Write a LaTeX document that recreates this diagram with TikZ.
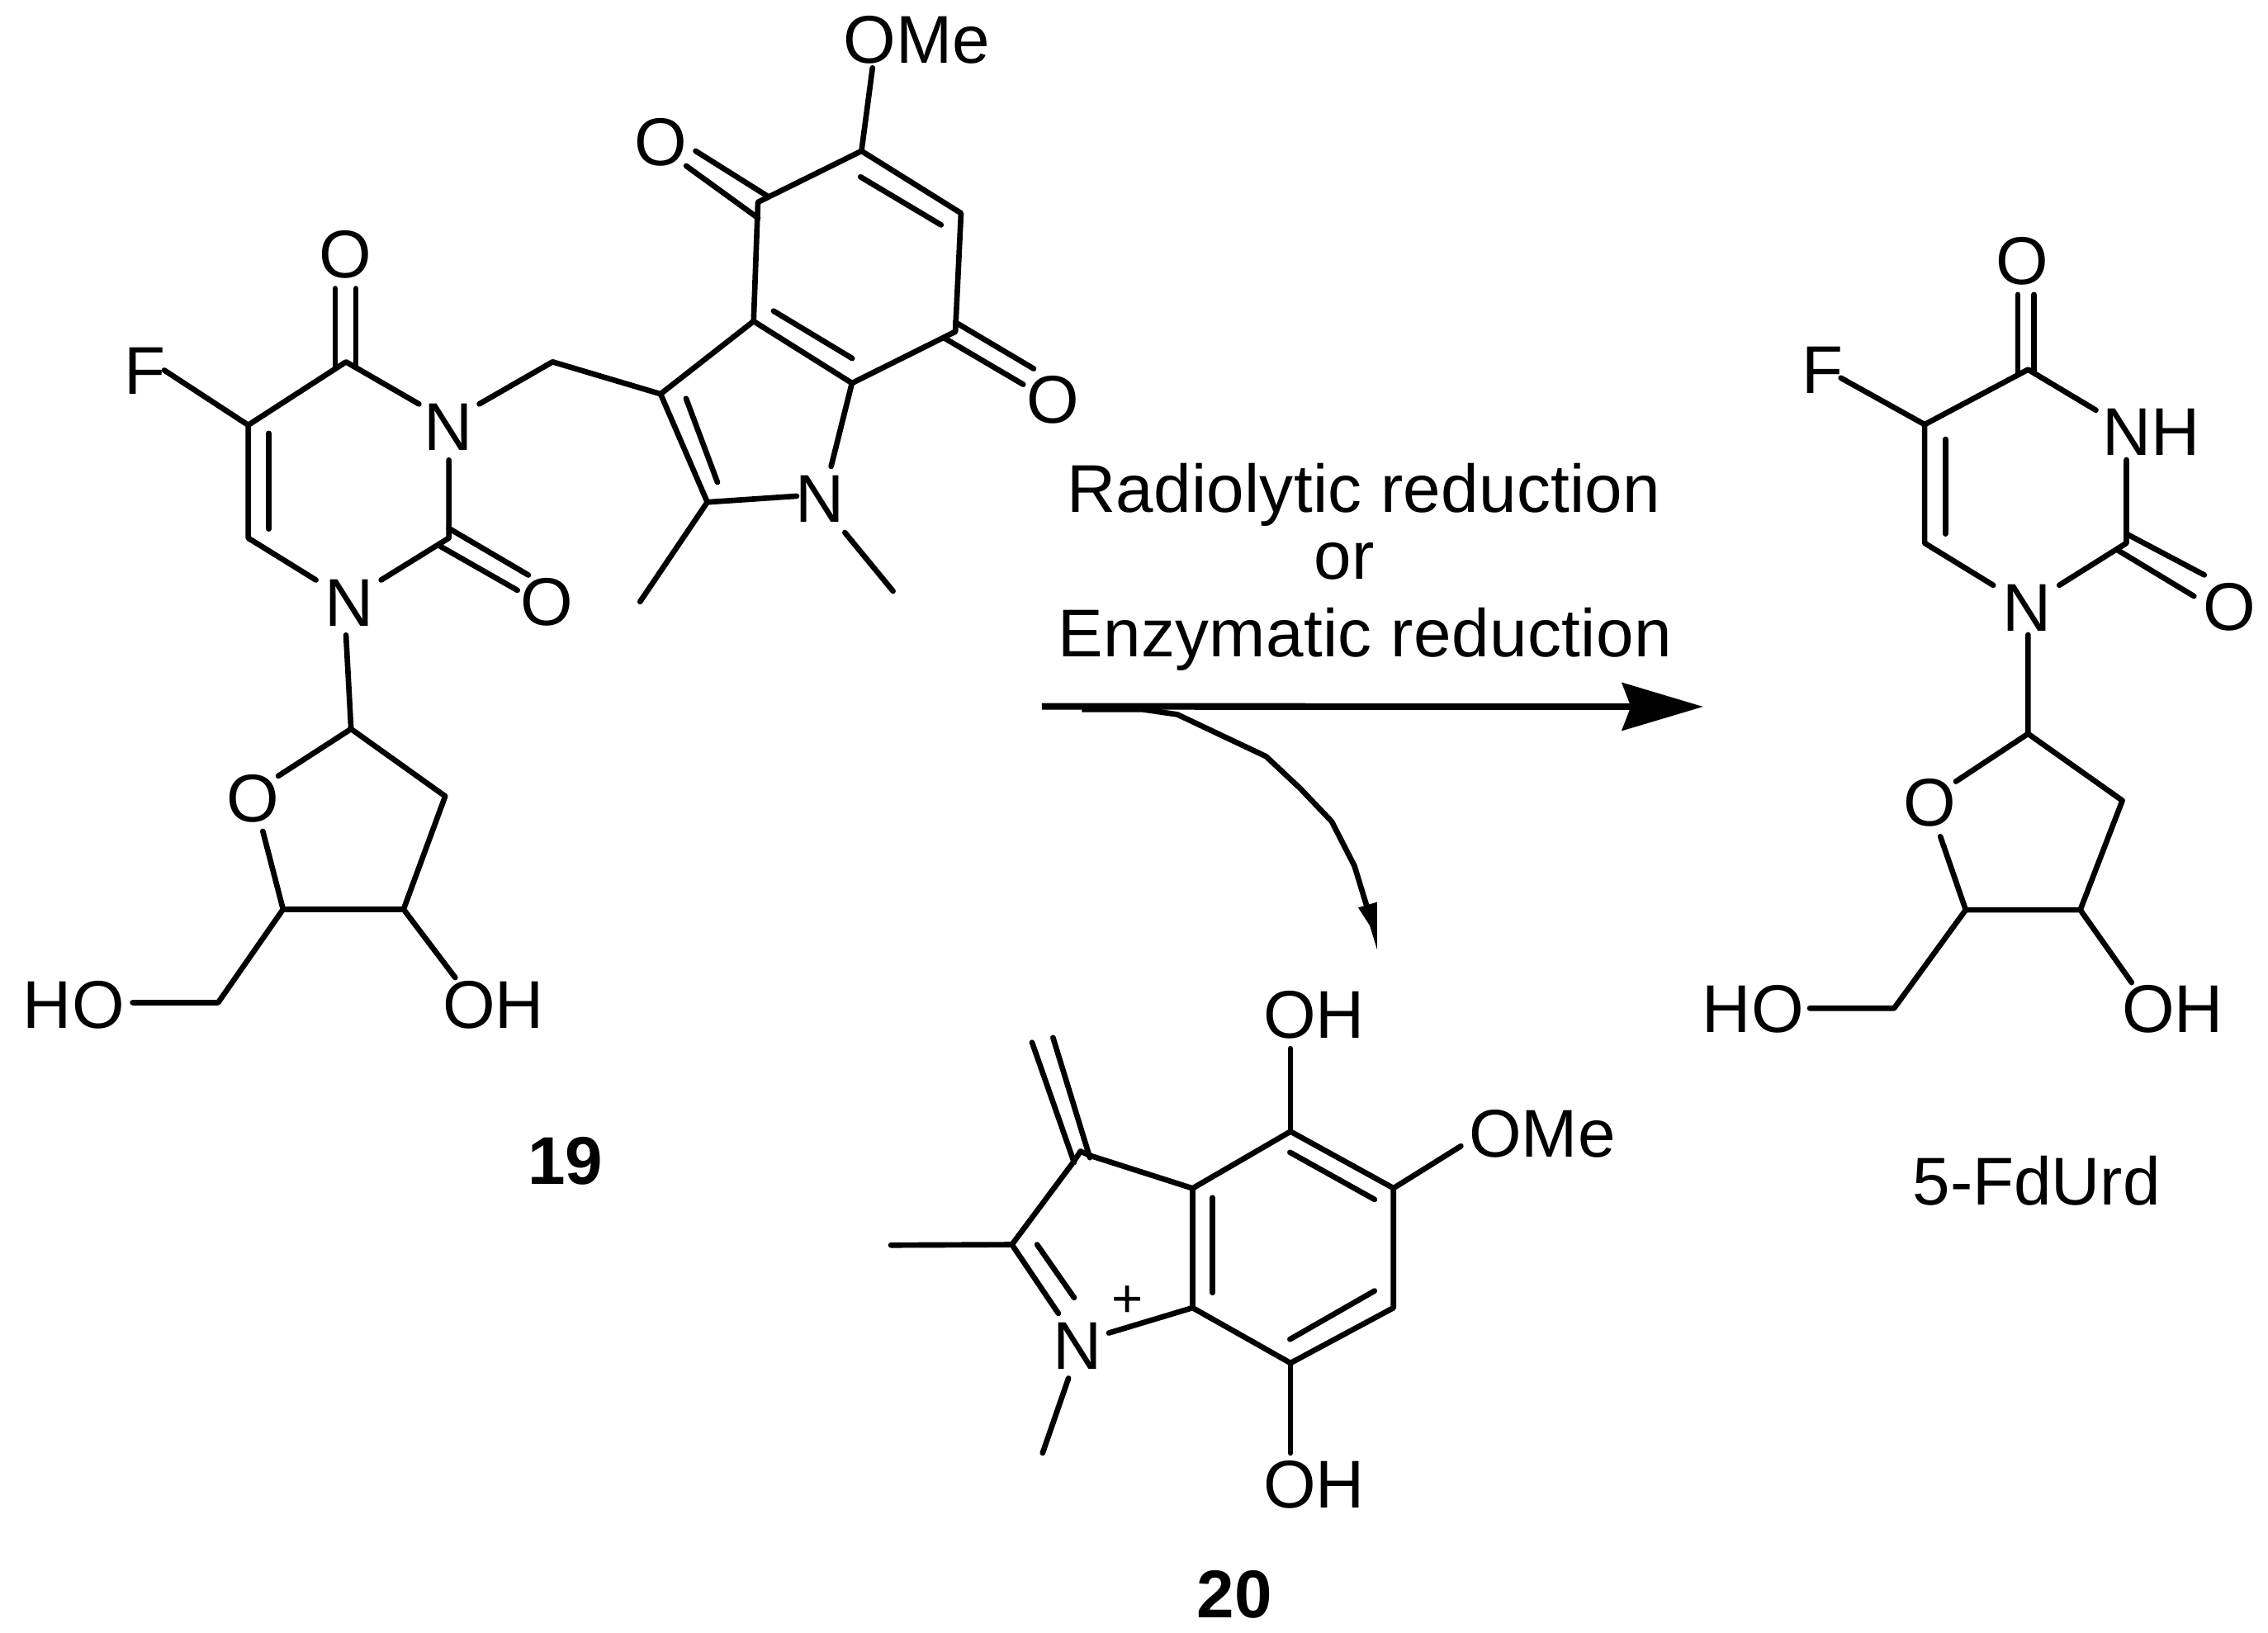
\documentclass[tikz,border=0pt]{standalone}
\usepackage{fontspec}
\setmainfont{Liberation Sans}
\usetikzlibrary{arrows.meta}
\tikzset{
  lab/.style={font=\fontsize{23.35pt}{26pt}\selectfont,inner sep=0pt,outer sep=0pt,anchor=base,text=black},
  blab/.style={lab,font=\fontsize{23.35pt}{26pt}\selectfont\bfseries},
  bond/.style={line width=1.9pt,line cap=round,line join=round,black},
  rxnarrow/.style={line width=2.3pt,black,-{Stealth[length=28pt,width=16.4pt,inset=3pt]}},
  hookline/.style={line width=1.9pt,line join=round,black}
}
\begin{document}
\begin{tikzpicture}[x=0.5pt,y=-0.5pt]
\useasboundingbox (0,0) rectangle (1568,1128.5);
% ---------- compound 19: labels
\node[lab] (aOMe) at (633.9,43.5) {OMe};
\node[lab] (aO4p) at (456.9,114.4) {O};
\node[lab] (aO7p) at (728.2,292.4) {O};
\node[lab] (aO4) at (239,192.3) {O};
\node[lab] (aF) at (100,272.3) {F};
\node[lab] (aN3) at (309.7,311.4) {N};
\node[lab] (aNp) at (566.6,361.1) {N};
\node[lab] (aN1) at (241.7,432.8) {N};
\node[lab] (aO2) at (378,432.5) {O};
\node[lab] (aOs) at (174.8,568.3) {O};
\node[lab] (aHO) at (51,711) {HO};
\node[lab] (aOH) at (341,711) {OH};
\node[blab] (a19) at (391,818.6) {19};
% atoms
\coordinate (C4) at (239.2,250.2); \coordinate (C5) at (171.6,293.9); \coordinate (C6) at (171.6,372);
\coordinate (C2) at (310.3,372); \coordinate (CH) at (382,250.2); \coordinate (I3) at (456.7,272.4);
\coordinate (I3a) at (521,222.1); \coordinate (I7a) at (589,264.9); \coordinate (I2) at (489,347.2);
\coordinate (I4) at (524,139.8); \coordinate (I5) at (595.6,104.4); \coordinate (I6) at (664.4,147.4); \coordinate (I7) at (660.5,229.3);
\coordinate (S1) at (242.7,504); \coordinate (S2) at (307.8,550.5); \coordinate (S3) at (279,628.7);
\coordinate (S4) at (195.7,628.7); \coordinate (S5) at (150.8,693.2);
% bond ends at labels
\coordinate (n3a) at (289.6,279.3); \coordinate (n3b) at (331.4,279.3); \coordinate (n3c) at (310.3,318.1);
\coordinate (n1a) at (218.4,401); \coordinate (n1b) at (263.5,401); \coordinate (n1c) at (239.2,439.1);
\coordinate (fe) at (113.6,256); \coordinate (npa) at (574.6,322.5); \coordinate (npb) at (550.8,343); \coordinate (npc) at (584.1,368.2);
\coordinate (me1) at (442.5,416); \coordinate (me2) at (617.4,408.7); \coordinate (ome) at (603.2,47);
\coordinate (so1) at (192.4,536.5); \coordinate (so2) at (181.7,574.7); \coordinate (ho) at (91.7,693.2); \coordinate (oh) at (314.7,675.9);
\draw[bond] (n3a) -- (C4) -- (C5) -- (C6) -- (n1a);
\draw[bond] (n1b) -- (C2) -- (n3c);
\draw[bond] (fe) -- (C5);
\draw[bond] (n3b) -- (CH) -- (I3) -- (I3a) -- (I7a) -- (npa);
\draw[bond] (I3) -- (I2) -- (npb);
\draw[bond] (I2) -- (me1);
\draw[bond] (npc) -- (me2);
\draw[bond] (I3a) -- (I4) -- (I5) -- (I6) -- (I7) -- (I7a);
\draw[bond] (I5) -- (ome);
\draw[bond] (n1c) -- (S1) -- (S2) -- (S3) -- (S4) -- (so2);
\draw[bond] (S1) -- (so1);
\draw[bond] (S4) -- (S5) -- (ho);
\draw[bond] (S3) -- (oh);
% double bonds 19
\coordinate (d1) at (185.9,299.6); \coordinate (d2) at (185.9,365.7); \draw[bond] (d1) -- (d2);
\coordinate (d3) at (231.7,199.5); \coordinate (d4) at (231.7,253); \draw[bond] (d3) -- (d4);
\coordinate (d5) at (246,199.5); \coordinate (d6) at (246,253); \draw[bond] (d5) -- (d6);
\coordinate (d7) at (310.3,365.3); \coordinate (d8) at (365.3,397.6); \draw[bond] (d7) -- (d8);
\coordinate (d9) at (304.4,377.7); \coordinate (d10) at (357.7,408.1); \draw[bond] (d9) -- (d10);
\coordinate (d11) at (480.9,104.4); \coordinate (d12) at (530.9,135.8); \draw[bond] (d11) -- (d12);
\coordinate (d13) at (474.4,114.7); \coordinate (d14) at (524,150.7); \draw[bond] (d13) -- (d14);
\coordinate (d15) at (660.5,222.8); \coordinate (d16) at (714.6,254.9); \draw[bond] (d15) -- (d16);
\coordinate (d17) at (652.8,233.7); \coordinate (d18) at (707.4,265.8); \draw[bond] (d17) -- (d18);
\coordinate (d19) at (594.9,122.3); \coordinate (d20) at (650.6,155.5); \draw[bond] (d19) -- (d20);
\coordinate (d21) at (534.8,215); \coordinate (d22) at (589.2,247.8); \draw[bond] (d21) -- (d22);
\coordinate (d23) at (474.3,275.5); \coordinate (d24) at (496,333.4); \draw[bond] (d23) -- (d24);
% ---------- reaction text and arrows
\node[lab] (t1) at (942.9,354.2) {\addfontfeature{LetterSpace=0.3}Radiolytic reduction};
\node[lab] (t2) at (929.4,400.5) {or};
\node[lab] (t3) at (943.5,454.3) {\addfontfeature{LetterSpace=0.5}Enzymatic reduction};
\coordinate (ast) at (720.3,488.4); \coordinate (aen) at (1177.5,488.6);
\draw[rxnarrow] (ast) -- (aen);
\coordinate (h0) at (748,490.5); \coordinate (h1) at (790,490.5); \coordinate (h2) at (814,494);
\coordinate (h3) at (875.3,523); \coordinate (h4) at (898.8,545); \coordinate (h5) at (920.7,568);
\coordinate (h6) at (936.4,598.7); \coordinate (h7) at (945.8,629.4);
\draw[hookline] (h0) -- (h1) -- (h2) -- (h3) -- (h4) -- (h5) -- (h6) -- (h7);
\coordinate (k1) at (939,627.5); \coordinate (k2) at (952,623.7); \coordinate (k3) at (952,656.3); \coordinate (k4) at (947,640);
\fill[black] (k1) -- (k2) -- (k3) -- (k4) -- cycle;
% ---------- compound 20
\node[lab] (bOHt) at (908.4,717.8) {OH};
\node[lab] (bOMe) at (1066.2,799.7) {OMe};
\node[lab] (bN) at (745.1,946.7) {N};
\node[inner sep=0pt,outer sep=0pt,font=\fontsize{18.7pt}{20pt}\selectfont] (bplus) at (779.7,900.2) {+};
\node[lab] (bOHb) at (908.4,1042.5) {OH};
\node[blab] (b20) at (853.5,1118.2) {20};
\coordinate (B4) at (892.2,782.3); \coordinate (B5) at (963.4,821.5); \coordinate (B6) at (963.4,904.2);
\coordinate (B7) at (892.2,942.4); \coordinate (B7a) at (824.5,904.2); \coordinate (B3a) at (824.5,821.6);
\coordinate (B3) at (753.5,798.9); \coordinate (B3b) at (742.2,803.3); \coordinate (B2) at (699.6,860.5);
\coordinate (bm1) at (615.9,860.9); \coordinate (bm2) at (720.8,1004.6); \coordinate (bn1) at (738.7,952.9);
\coordinate (bn2) at (766.6,921.6); \coordinate (bn3) at (731.7,908.1);
\coordinate (bo1) at (892.2,725); \coordinate (bo2) at (892.2,1004.6); \coordinate (bo3) at (1010,792.4);
\coordinate (B3c) at (747,796);
\draw[bond] (B3) -- (B3a) -- (B4) -- (B5) -- (B6) -- (B7) -- (B7a) -- (B3a);
\draw[bond] (B3b) -- (B2) -- (bn3);
\draw[bond] (B3b) -- (B3c) -- (B3);
\draw[bond] (B2) -- (bm1);
\draw[bond] (bn1) -- (bm2);
\draw[bond] (bn2) -- (B7a);
\draw[bond] (B4) -- (bo1);
\draw[bond] (B7) -- (bo2);
\draw[bond] (B5) -- (bo3);
\coordinate (e1) at (713.5,720.7); \coordinate (e2) at (742.6,803.7); \draw[bond] (e1) -- (e2);
\coordinate (e3) at (728,717.4); \coordinate (e4) at (753.5,800.4); \draw[bond] (e3) -- (e4);
\coordinate (e5) at (717,860.5); \coordinate (e6) at (742.6,897.2); \draw[bond] (e5) -- (e6);
\coordinate (e7) at (891.8,796.7); \coordinate (e8) at (950.3,829.3); \draw[bond] (e7) -- (e8);
\coordinate (e9) at (838.2,828.1); \coordinate (e10) at (838.2,893.7); \draw[bond] (e9) -- (e10);
\coordinate (e11) at (950.3,892.5); \coordinate (e12) at (891.8,926); \draw[bond] (e11) -- (e12);
% ---------- 5-FdUrd
\node[lab] (cO4) at (1398.3,196.6) {O};
\node[lab] (cF) at (1260,272) {F};
\node[lab] (cNH) at (1487,314.6) {NH};
\node[lab] (cN1) at (1401.6,436.4) {N};
\node[lab] (cO2) at (1541.2,435.8) {O};
\node[lab] (cOs) at (1334.4,571.3) {O};
\node[lab] (cHO) at (1212,714) {HO};
\node[lab] (cOH) at (1502,714) {OH};
\node[lab] (cname) at (1408,832.8) {5-FdUrd};
\coordinate (P4) at (1402.1,255.5); \coordinate (P5) at (1330.6,293.5); \coordinate (P6) at (1330.6,375.5);
\coordinate (P2) at (1470.1,375.5); \coordinate (Q1) at (1402.1,507.3); \coordinate (Q2) at (1467.3,553.5);
\coordinate (Q3) at (1438.2,629.1); \coordinate (Q4) at (1359,629.1); \coordinate (Q5) at (1309.5,697.1);
\coordinate (pf) at (1272.7,261.3); \coordinate (pn3a) at (1449,283.6); \coordinate (pn3b) at (1470.1,317.9);
\coordinate (pn1a) at (1378,404.6); \coordinate (pn1b) at (1423.7,404.6); \coordinate (pn1c) at (1402.1,438.9);
\coordinate (qo1) at (1352.2,540.3); \coordinate (qo2) at (1341.5,578.4); \coordinate (qh) at (1251.2,697.1); \coordinate (qoh) at (1473.7,679.3);
\draw[bond] (pn3a) -- (P4) -- (P5) -- (P6) -- (pn1a);
\draw[bond] (pf) -- (P5);
\draw[bond] (pn3b) -- (P2) -- (pn1b);
\draw[bond] (pn1c) -- (Q1) -- (Q2) -- (Q3) -- (Q4) -- (qo2);
\draw[bond] (Q1) -- (qo1);
\draw[bond] (Q4) -- (Q5) -- (qh);
\draw[bond] (Q3) -- (qoh);
\coordinate (f1) at (1395,203.7); \coordinate (f2) at (1395,258); \draw[bond] (f1) -- (f2);
\coordinate (f3) at (1406.2,203.7); \coordinate (f4) at (1406.2,256.5); \draw[bond] (f3) -- (f4);
\coordinate (f5) at (1345,303.7); \coordinate (f6) at (1345,369.1); \draw[bond] (f5) -- (f6);
\coordinate (f7) at (1470.1,369.1); \coordinate (f8) at (1523.9,397.5); \draw[bond] (f7) -- (f8);
\coordinate (f9) at (1464.3,380.5); \coordinate (f10) at (1516.8,412.2); \draw[bond] (f9) -- (f10);
\end{tikzpicture}
\end{document}
